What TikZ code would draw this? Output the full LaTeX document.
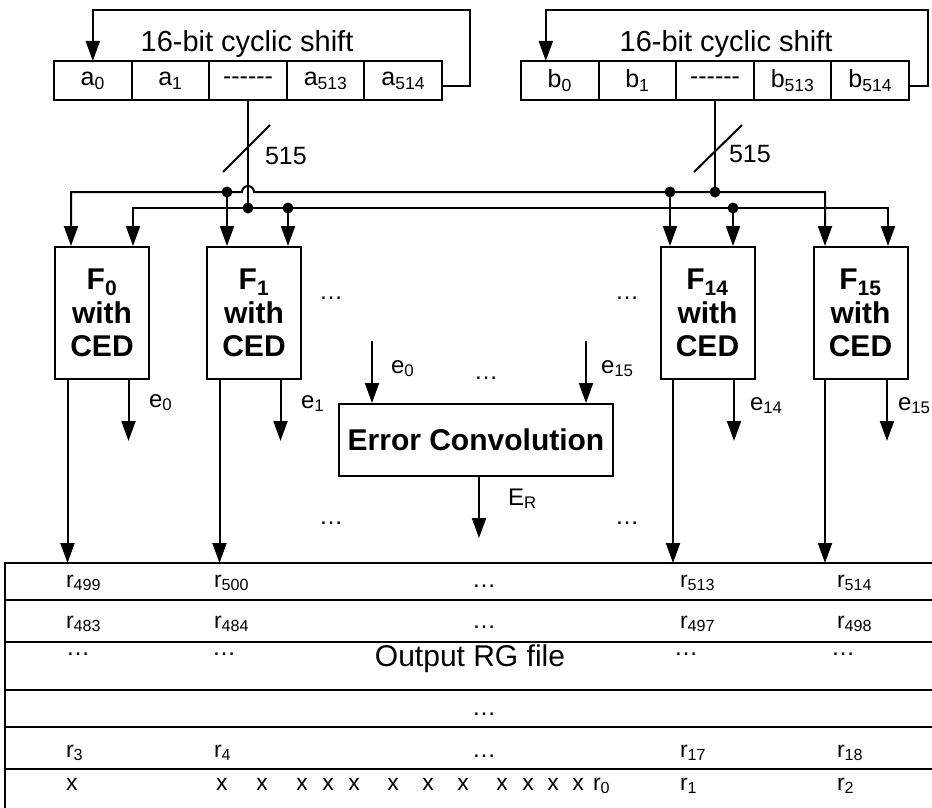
\documentclass[tikz,border=0pt]{standalone}
\usepackage{fontspec}
\setmainfont{Liberation Sans}
\usetikzlibrary{arrows.meta,positioning}

\begin{document}
\begin{tikzpicture}[
    x=1pt, y=1pt,
    line width=2pt,
    cell/.style={draw, rectangle, minimum width=77.6pt, minimum height=39pt, inner sep=0pt, outer sep=0pt, font=\fontsize{25}{30}\selectfont},
    fblock/.style={draw, rectangle, minimum width=94pt, minimum height=132pt, inner sep=0pt, align=center, font=\fontsize{30}{33.5}\selectfont\bfseries},
    conv/.style={draw, rectangle, minimum width=274pt, minimum height=72pt, inner sep=0pt, font=\fontsize{30}{36}\selectfont\bfseries},
    title/.style={font=\fontsize{29}{34}\selectfont, anchor=base, inner sep=0pt},
    signal/.style={font=\fontsize{24}{28}\selectfont, anchor=base west, inner sep=0pt},
    buslbl/.style={font=\fontsize{25}{30}\selectfont, anchor=base west, inner sep=0pt},
    ellip/.style={font=\fontsize{24}{28}\selectfont, anchor=base, inner sep=0pt},
    entry/.style={font=\fontsize{23}{28}\selectfont, anchor=base west, inner sep=0pt},
    junction/.style={circle, fill, minimum size=11pt, inner sep=0pt},
    edge/.style={-{Triangle[width=14pt,length=20pt]}},
    biedge/.style={{Triangle[width=14pt,length=20pt]}-{Triangle[width=14pt,length=20pt]}},
    tline/.style={line width=2.4pt},
]

\useasboundingbox (0,0) rectangle (932,-808);

% Register a
\node[cell] (a0) at (92.8,-80.5) {a\textsubscript{0}};
\node[cell, right=0pt of a0] (a1) {a\textsubscript{1}};
\node[cell, right=0pt of a1] (ad) {-{}-{}-{}-{}-{}-};
\node[cell, right=0pt of ad] (a513) {a\textsubscript{513}};
\node[cell, right=0pt of a513] (a514) {a\textsubscript{514}};
\node[title] (ta) at (247,-52) {16-bit cyclic shift};

% Register b
\node[cell] (b0) at (559.8,-80.5) {b\textsubscript{0}};
\node[cell, right=0pt of b0] (b1) {b\textsubscript{1}};
\node[cell, right=0pt of b1] (bd) {-{}-{}-{}-{}-{}-};
\node[cell, right=0pt of bd] (b513) {b\textsubscript{513}};
\node[cell, right=0pt of b513] (b514) {b\textsubscript{514}};
\node[title] (tb) at (726,-52) {16-bit cyclic shift};

% Cyclic shift loops
\draw[edge] ([yshift=-5.5pt]a514.east) -| (470,-10) -| (a0.north);
\draw[edge] ([yshift=-5.5pt]b514.east) -| (928,-10) -| ([xshift=-14pt]b0.north);

% F blocks
\node[fblock] (f0) at (102,-313) {F\textsubscript{0}\\with\\CED};
\node[fblock] (f1) at (254,-313) {F\textsubscript{1}\\with\\CED};
\node[fblock] (f14) at (707.5,-313) {F\textsubscript{14}\\with\\CED};
\node[fblock] (f15) at (860.5,-313) {F\textsubscript{15}\\with\\CED};

% Buses
\coordinate (busA) at (0,-208);
\coordinate (busB) at (0,-192);
\draw (ad.south) -- (ad.south |- busA);
\draw (bd.south) -- (bd.south |- busB);
\draw (223,-172) -- (270,-125);
\draw (694,-172) -- (742,-125);
\node[buslbl] (wa) at (264,-164) {515};
\node[buslbl] (wb) at (728,-162) {515};

\draw[biedge] ([xshift=-31pt]f0.north) -- ([xshift=-31pt]f0.north |- busB)
  -- ([xshift=-6pt]ad.south |- busB) arc[start angle=180, end angle=0, radius=6pt]
  -- ([xshift=-35.5pt]f15.north |- busB) -- ([xshift=-35.5pt]f15.north);
\draw[biedge] ([xshift=31pt]f0.north) -- ([xshift=31pt]f0.north |- busA)
  -- ([xshift=27.5pt]f15.north |- busA) -- ([xshift=27.5pt]f15.north);
\draw[edge] ([xshift=-27pt]f1.north |- busB) -- ([xshift=-27pt]f1.north);
\draw[edge] ([xshift=34pt]f1.north |- busA) -- ([xshift=34pt]f1.north);
\draw[edge] ([xshift=-37.5pt]f14.north |- busB) -- ([xshift=-37.5pt]f14.north);
\draw[edge] ([xshift=25.5pt]f14.north |- busA) -- ([xshift=25.5pt]f14.north);

\node[junction] (j1) at ([xshift=-27pt]f1.north |- busB) {};
\node[junction] (j2) at ([xshift=-37.5pt]f14.north |- busB) {};
\node[junction] (j3) at (bd.south |- busB) {};
\node[junction] (j4) at (ad.south |- busA) {};
\node[junction] (j5) at ([xshift=34pt]f1.north |- busA) {};
\node[junction] (j6) at ([xshift=25.5pt]f14.north |- busA) {};

% Outputs to RG file
\coordinate (tabtop) at (5,-563);
\draw[edge] ([xshift=-34.5pt]f0.south) -- ([xshift=-34.5pt]f0.south |- tabtop);
\draw[edge] ([xshift=-34.5pt]f1.south) -- ([xshift=-34.5pt]f1.south |- tabtop);
\draw[edge] ([xshift=-34.5pt]f14.south) -- ([xshift=-34.5pt]f14.south |- tabtop);
\draw[edge] ([xshift=-35.5pt]f15.south) -- ([xshift=-35.5pt]f15.south |- tabtop);

% Error signals
\draw[edge] ([xshift=26.5pt]f0.south) -- ++(0,-61);
\draw[edge] ([xshift=26.5pt]f1.south) -- ++(0,-61);
\draw[edge] ([xshift=26.5pt]f14.south) -- ++(0,-61);
\draw[edge] ([xshift=26.5pt]f15.south) -- ++(0,-61);
\node[signal] (le0) at (148,-407) {e\textsubscript{0}};
\node[signal] (le1) at (300,-408) {e\textsubscript{1}};
\node[signal] (le14) at (749,-410) {e\textsubscript{14}};
\node[signal] (le15) at (897,-410) {e\textsubscript{15}};

% Error convolution
\node[conv] (ec) at (476,-440) {Error Convolution};
\draw[edge] ([xshift=-104pt, yshift=62pt]ec.north) -- ([xshift=-104pt]ec.north);
\draw[edge] ([xshift=110pt, yshift=62pt]ec.north) -- ([xshift=110pt]ec.north);
\draw[edge] ([xshift=3pt]ec.south) -- ++(0,-61);
\node[signal] (ie0) at (390,-373) {e\textsubscript{0}};
\node[signal] (ie15) at (600,-373) {e\textsubscript{15}};
\node[signal] (er) at (507,-505) {E\textsubscript{R}};

\node[ellip] (d1) at (331,-299.5) {\ldots};
\node[ellip] (d2) at (627,-299.5) {\ldots};
\node[ellip] (d3) at (486,-379.5) {\ldots};
\node[ellip] (d4) at (331,-524.5) {\ldots};
\node[ellip] (d5) at (627,-524.5) {\ldots};

% Output RG file
\draw[tline] (932,-563) -- (5,-563) -- (5,-808);
\draw[tline] (5,-600) -- (932,-600);
\draw[tline] (5,-642) -- (932,-642);
\draw[tline] (5,-690) -- (932,-690);
\draw[tline] (5,-727) -- (932,-727);
\draw[tline] (5,-769) -- (932,-769);

\node[entry] (r499) at (65,-587) {r\textsubscript{499}};
\node[entry] (r500) at (213,-587) {r\textsubscript{500}};
\node[ellip] (m1) at (484,-587) {\ldots};
\node[entry] (r513) at (679,-587) {r\textsubscript{513}};
\node[entry] (r514) at (836,-587) {r\textsubscript{514}};

\node[entry] (r483) at (65,-628) {r\textsubscript{483}};
\node[entry] (r484) at (213,-628) {r\textsubscript{484}};
\node[ellip] (m2) at (484,-628) {\ldots};
\node[entry] (r497) at (679,-628) {r\textsubscript{497}};
\node[entry] (r498) at (836,-628) {r\textsubscript{498}};

\node[ellip] (c1) at (78,-655.5) {\ldots};
\node[ellip] (c2) at (224,-655.5) {\ldots};
\node[font=\fontsize{30}{36}\selectfont, anchor=base, inner sep=0pt] (rg) at (470,-666) {Output RG file};
\node[ellip] (c4) at (686,-655.5) {\ldots};
\node[ellip] (c5) at (843,-655.5) {\ldots};

\node[ellip] (m4) at (484,-715.5) {\ldots};

\node[entry] (r3) at (65,-757) {r\textsubscript{3}};
\node[entry] (r4) at (213,-757) {r\textsubscript{4}};
\node[ellip] (m5) at (484,-757) {\ldots};
\node[entry] (r17) at (679,-757) {r\textsubscript{17}};
\node[entry] (r18) at (836,-757) {r\textsubscript{18}};

\node[entry] (x0) at (65,-790) {x};
\node[entry] (x1) at (215,-790) {x};
\node[entry, anchor=base] (x2) at (262,-790) {x};
\node[entry, anchor=base] (x3) at (302,-790) {x};
\node[entry, anchor=base] (x4) at (328,-790) {x};
\node[entry, anchor=base] (x5) at (354,-790) {x};
\node[entry, anchor=base] (x6) at (393,-790) {x};
\node[entry, anchor=base] (x7) at (428,-790) {x};
\node[entry, anchor=base] (x8) at (463,-790) {x};
\node[entry, anchor=base] (x9) at (502,-790) {x};
\node[entry, anchor=base] (x10) at (528,-790) {x};
\node[entry, anchor=base] (x11) at (553,-790) {x};
\node[entry, anchor=base] (x12) at (578,-790) {x};
\node[entry] (r0) at (592,-790) {r\textsubscript{0}};
\node[entry] (r1) at (679,-790) {r\textsubscript{1}};
\node[entry] (r2) at (836,-790) {r\textsubscript{2}};

\end{tikzpicture}
\end{document}
